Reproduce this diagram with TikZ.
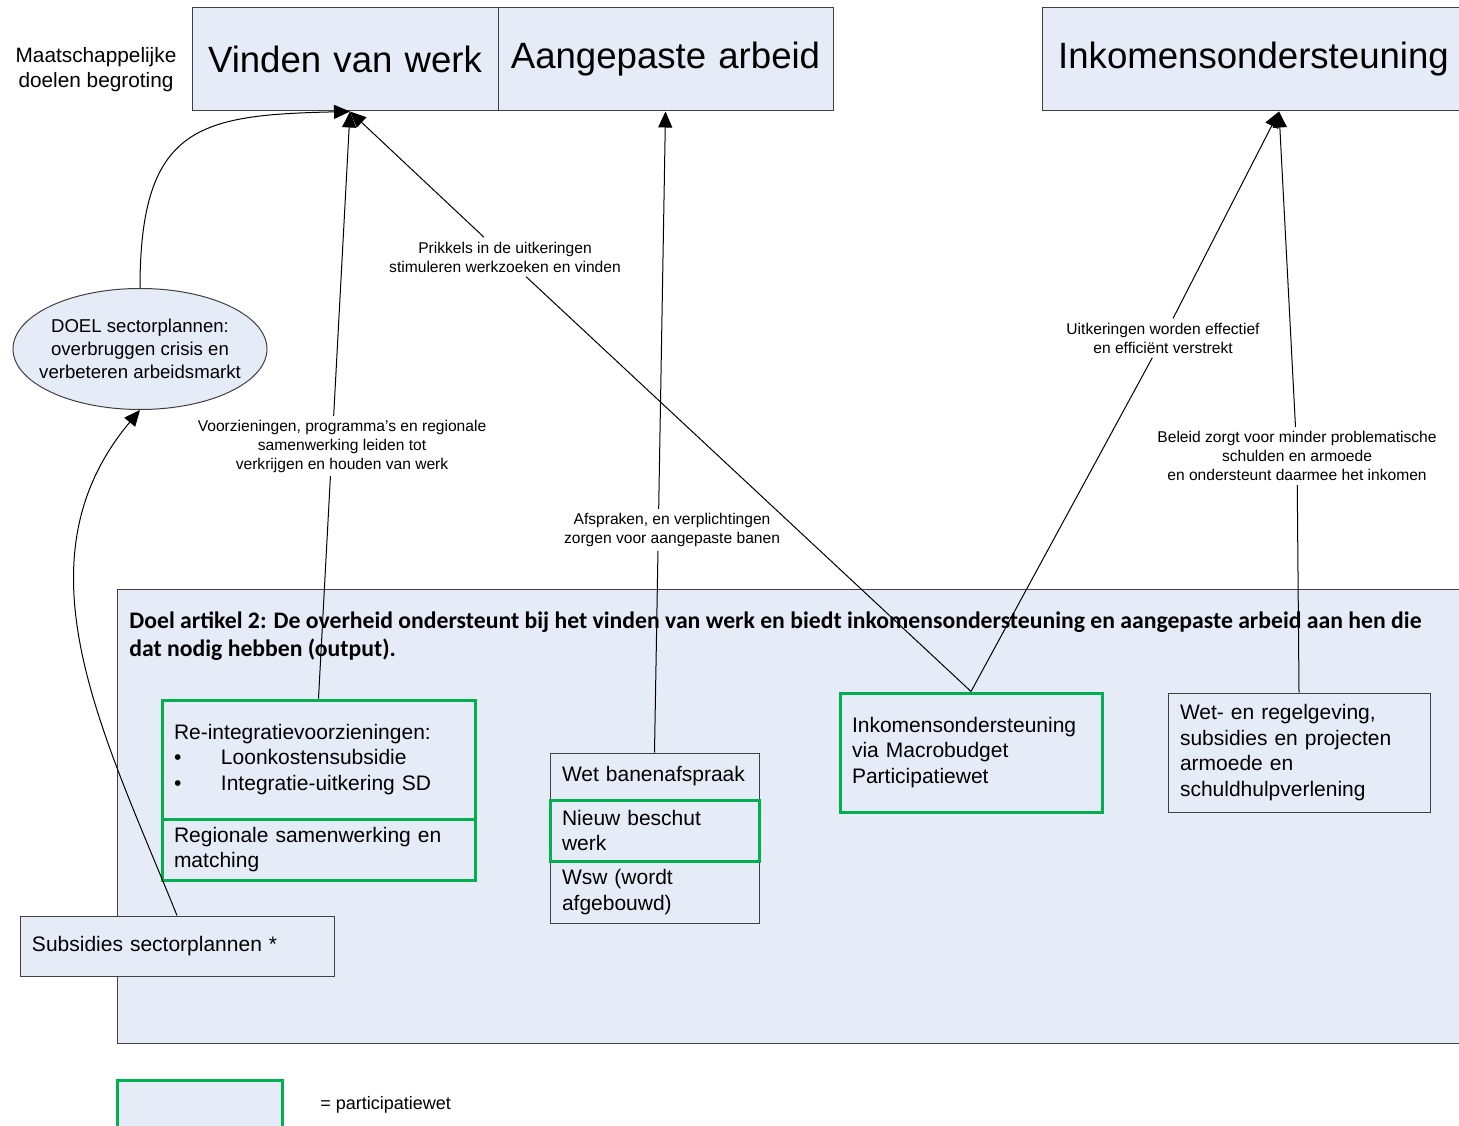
\documentclass[tikz,border=0pt]{standalone}
\usepackage{fontspec}
\setmainfont{Liberation Sans}
\newfontfamily\calfont{Carlito}
\usetikzlibrary{arrows.meta,shapes.geometric}
\definecolor{boxfill}{RGB}{230,236,247}
\definecolor{boxline}{RGB}{64,64,64}
\definecolor{pwgreen}{RGB}{0,176,80}

\begin{document}
\begin{tikzpicture}[x=0.5pt,y=0.5pt]
		\tikzset{box/.style = {shape=rectangle, draw=boxline, fill=boxfill, line width=0.5pt, inner xsep=6pt, inner ysep=0pt, align=left, font=\fontsize{10.5}{12.75}\selectfont},
			pwbox/.style = {box, draw=pwgreen, line width=1.5pt},
			goal/.style = {box, align=center, minimum height=51.5pt, font=\fontsize{18.3}{22}\selectfont},
			lbl/.style = {align=center, inner sep=2pt, font=\fontsize{7.8}{9.5}\selectfont},
			link/.style = {line width=0.5pt, -{Triangle[length=8pt,width=7pt]}}}

		\useasboundingbox (0,0) rectangle (1459,1125);

		% maatschappelijke doelen
		\node[align=center, font=\fontsize{10.4}{12.5}\selectfont] (T_0) at (96,1055) {Maatschappelijke\\doelen begroting};
		\node[goal, text width=141pt] (G_1) at (345,1065.5) {Vinden van werk};
		\node[goal, text width=155.5pt] (G_2) at (665.5,1065.5) {Aangepaste arbeid};
		\node[goal, text width=199.5pt] (G_3) at (1253.5,1065.5) {Inkomensondersteuning};

		\node[ellipse, draw=boxline, fill=boxfill, line width=0.5pt, minimum width=127pt, minimum height=60.5pt, inner xsep=-10pt, inner ysep=0pt, align=center, font=\fontsize{9.3}{11.5}\selectfont] (E_1) at (140,776) {DOEL sectorplannen:\\overbruggen crisis en\\verbeteren arbeidsmarkt};

		% doel artikel 2
		\draw[draw=boxline, fill=boxfill, line width=0.5pt] (117,82) rectangle (1475,535);
		\node[anchor=base west, align=left, inner sep=0pt, font=\calfont\bfseries\fontsize{11.85}{14}\selectfont] (P_0) at (129,468) {Doel artikel 2: De overheid ondersteunt bij het vinden van werk en biedt inkomensondersteuning en aangepaste arbeid aan hen die\\dat nodig hebben (output).};

		\node[pwbox, text width=144.5pt, minimum height=59.5pt] (B_1) at (318.5,365.5) {Re-integratievoorzieningen:\\\makebox[23.5pt][l]{•}Loonkostensubsidie\\\makebox[23.5pt][l]{•}Integratie-uitkering SD};
		\node[pwbox, text width=144.5pt, minimum height=30.5pt] (B_2) at (318.5,275.5) {Regionale samenwerking en\\matching};
		\node[box, text width=145pt, minimum height=30pt] (B_3) at (177,179) {Subsidies sectorplannen *};
		\node[box, text width=92.5pt, minimum height=23.5pt] (B_4) at (654.5,348.5) {Wet banenafspraak};
		\node[box, text width=92.5pt, minimum height=31pt] (B_6) at (654.5,233) {Wsw (wordt\\afgebouwd)};
		\node[pwbox, text width=92.5pt, minimum height=30.5pt] (B_5) at (654.5,294.5) {Nieuw beschut\\werk};
		\node[pwbox, text width=119pt, minimum height=59.5pt] (B_7) at (971,372.5) {Inkomensondersteuning\\via Macrobudget\\Participatiewet};
		\node[box, text width=119pt, minimum height=59.5pt] (B_8) at (1299,372.5) {Wet- en regelgeving,\\subsidies en projecten\\armoede en\\schuldhulpverlening};

		% labels
		\node[lbl] (L_1) at (505,868) {Prikkels in de uitkeringen\\stimuleren werkzoeken en vinden};
		\node[lbl] (L_4) at (1163,787) {Uitkeringen worden effectief\\en efficiënt verstrekt};
		\node[lbl] (L_5) at (1297,669) {Beleid zorgt voor minder problematische\\schulden en armoede\\en ondersteunt daarmee het inkomen};

		\draw[link] (E_1.north) .. controls (140,1000) and (200,1010) .. ([xshift=2.5pt]G_1.south);
		\draw[link] (B_3.north) to[out=112,in=230] (E_1.south);
		\draw[link] (B_1.north) -- ([xshift=2.5pt]G_1.south) node[lbl, fill=white, pos=0.43, xshift=5pt] (L_2) {Voorzieningen, programma's en regionale\\samenwerking leiden tot\\verkrijgen en houden van werk};
		\draw[link] (B_4.north) -- (G_2.south) node[lbl, fill=white, pos=0.347, xshift=6.85pt] (L_3) {Afspraken, en verplichtingen\\zorgen voor aangepaste banen};
		\draw[link] (B_7.north) -- (L_1) -- ([xshift=2.5pt]G_1.south);
		\draw[link] (B_7.north) -- (L_4) -- ([xshift=12.75pt]G_3.south);
		\draw[link] (B_8.north) -- (L_5) -- ([xshift=12.75pt]G_3.south);

		% legenda
		\node[pwbox, minimum width=82.5pt, minimum height=25pt] (K_1) at (199.5,20) {};
		\node[anchor=west, inner sep=0pt, font=\fontsize{9}{11}\selectfont] (K_2) at (320,20) {= participatiewet};

	\end{tikzpicture}
\end{document}
